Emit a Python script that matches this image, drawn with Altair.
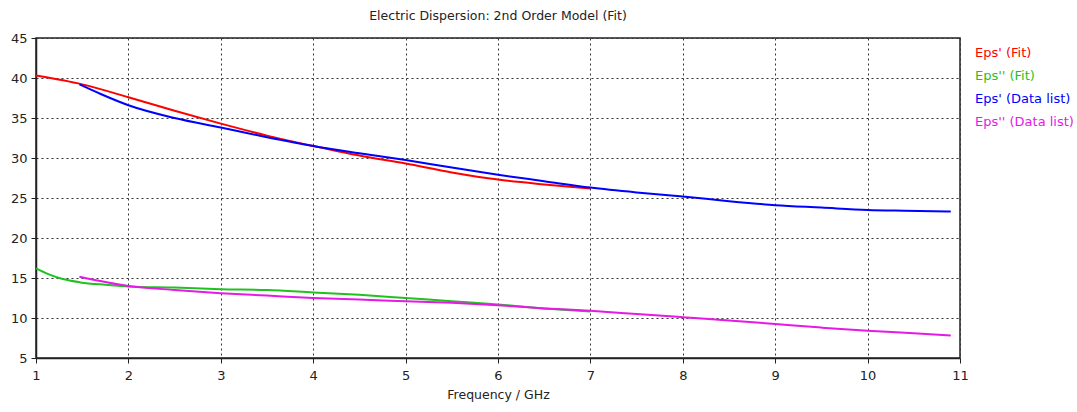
import altair as alt
import pandas as pd

# Eps' (Fit)
fit1_x = [1.0, 1.5, 2.0, 2.5, 3.0, 3.5, 4.0, 4.5, 5.0, 5.5, 6.0, 6.5, 7.0]
fit1_y = [40.3, 39.2, 37.6, 35.9, 34.3, 32.8, 31.5, 30.3, 29.3, 28.2, 27.3, 26.7, 26.2]
# Eps'' (Fit)
fit2_x = [1.0, 1.14, 1.28, 1.48, 1.75, 2.0, 2.5, 3.0, 3.5, 4.0, 4.5, 5.0, 5.5, 6.0, 6.5, 7.0]
fit2_y = [16.2, 15.45, 14.9, 14.45, 14.15, 13.95, 13.8, 13.6, 13.5, 13.2, 12.9, 12.5, 12.1, 11.7, 11.2, 10.8]
# Eps' (Data list)
dat1_x = [1.47, 1.7, 2.0, 2.5, 3.0, 3.5, 4.0, 4.5, 5.0, 5.5, 6.0, 6.5, 7.0, 7.5, 8.0, 8.5, 9.0, 9.5, 10.0, 10.4, 10.9]
dat1_y = [39.2, 38.0, 36.6, 35.0, 33.8, 32.6, 31.5, 30.6, 29.75, 28.8, 27.9, 27.1, 26.3, 25.7, 25.2, 24.6, 24.1, 23.8, 23.5, 23.4, 23.3]
# Eps'' (Data list)
dat2_x = [1.47, 2.0, 2.5, 3.0, 3.5, 4.0, 4.5, 5.0, 5.5, 6.0, 6.5, 7.0, 7.5, 8.0, 8.5, 9.0, 9.5, 10.0, 10.5, 10.9]
dat2_y = [15.15, 14.0, 13.5, 13.1, 12.8, 12.5, 12.3, 12.1, 11.9, 11.6, 11.2, 10.9, 10.5, 10.1, 9.7, 9.25, 8.8, 8.4, 8.1, 7.8]

series_names = ["Eps' (Fit)", "Eps'' (Fit)", "Eps' (Data list)", "Eps'' (Data list)"]
series_colors = ["#ff0000", "#1fc21f", "#0000ff", "#e619e6"]

rows = []
for name, xs, ys in zip(series_names, [fit1_x, fit2_x, dat1_x, dat2_x], [fit1_y, fit2_y, dat1_y, dat2_y]):
    for i, (a, b) in enumerate(zip(xs, ys)):
        rows.append({"series": name, "f": a, "eps": b, "order": i})
df = pd.DataFrame(rows)

FONT = "DejaVu Sans"

chart = alt.Chart(df).mark_line(strokeWidth=2, interpolate="monotone").encode(
    x=alt.X("f:Q", scale=alt.Scale(domain=[1, 11], nice=False),
            axis=alt.Axis(title="Frequency / GHz", values=list(range(1, 12)), format="d",
                          labelFlush=False)),
    y=alt.Y("eps:Q", scale=alt.Scale(domain=[5, 45], nice=False),
            axis=alt.Axis(title=None, values=list(range(5, 50, 5)), labelFlush=False)),
    color=alt.Color("series:N", sort=series_names,
                    scale=alt.Scale(domain=series_names, range=series_colors),
                    legend=alt.Legend(title=None, orient="none", legendX=926, legendY=8,
                                      symbolOpacity=0, symbolSize=0, symbolStrokeWidth=0,
                                      labelOffset=0, rowPadding=9, labelLimit=300,
                                      labelFont=FONT, labelFontSize=13,
                                      labelColor={"expr": "scale('color', datum.value)"})),
    detail="series:N",
    order="order:Q",
).properties(
    width=924, height=320,
    title=alt.Title("Electric Dispersion: 2nd Order Model (Fit)", font=FONT, fontSize=12.5,
                    fontWeight="normal", color="#222222", offset=10),
    autosize=alt.AutoSizeParams(type="none"),
    padding={"left": 36, "top": 38, "right": 117, "bottom": 54},
).configure_view(
    stroke="#222222", strokeWidth=1.5
).configure_axis(
    domainColor="#222222", domainWidth=1.5,
    tickColor="#222222", tickSize=5,
    gridColor="#333333", gridDash=[2, 3], gridWidth=1, gridOpacity=1,
    labelFont=FONT, labelFontSize=13, labelColor="#222222",
    titleFont=FONT, titleFontSize=12.5, titleFontWeight="normal", titleColor="#222222",
    labelPadding=4,
).configure_axisX(titlePadding=6, labelPadding=6)

chart.save("out.html", embed_options={"renderer": "svg", "actions": False})
